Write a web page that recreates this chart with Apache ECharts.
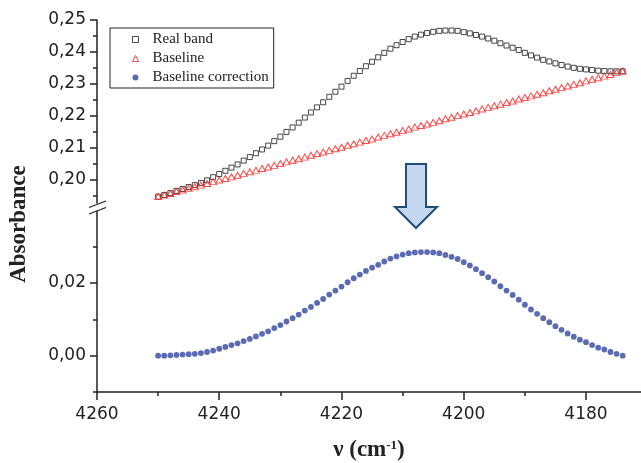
<!DOCTYPE html>
<html><head><meta charset="utf-8">
<script src="https://cdn.jsdelivr.net/npm/echarts@6/dist/echarts.min.js"></script>
<style>html,body{margin:0;padding:0;background:#fff}#c{width:641px;height:463px}</style>
</head><body><div id="c"></div>
<script>
const wavenumbers = [4250,4249,4248,4247,4246,4245,4244,4243,4242,4241,
4240,4239,4238,4237,4236,4235,4234,4233,4232,4231,
4230,4229,4228,4227,4226,4225,4224,4223,4222,4221,
4220,4219,4218,4217,4216,4215,4214,4213,4212,4211,
4210,4209,4208,4207,4206,4205,4204,4203,4202,4201,
4200,4199,4198,4197,4196,4195,4194,4193,4192,4191,
4190,4189,4188,4187,4186,4185,4184,4183,4182,4181,
4180,4179,4178,4177,4176,4175,4174];
const realBand = [0.1946,0.1951,0.1957,0.1964,0.1970,0.1976,0.1982,0.1989,0.1997,0.2007,
0.2017,0.2027,0.2037,0.2047,0.2059,0.2070,0.2082,0.2094,0.2106,0.2120,
0.2134,0.2149,0.2163,0.2178,0.2194,0.2210,0.2226,0.2242,0.2259,0.2275,
0.2291,0.2309,0.2325,0.2340,0.2355,0.2369,0.2383,0.2397,0.2410,0.2421,
0.2431,0.2440,0.2448,0.2454,0.2459,0.2463,0.2466,0.2467,0.2467,0.2466,
0.2462,0.2458,0.2453,0.2448,0.2442,0.2435,0.2427,0.2420,0.2413,0.2406,
0.2397,0.2389,0.2382,0.2375,0.2370,0.2364,0.2359,0.2354,0.2350,0.2347,
0.2345,0.2343,0.2341,0.2340,0.2339,0.2339,0.2339];
const baseline = [0.1946,0.1951,0.1956,0.1962,0.1967,0.1972,0.1977,0.1982,0.1987,0.1993,
0.1998,0.2003,0.2008,0.2013,0.2019,0.2024,0.2029,0.2034,0.2039,0.2044,
0.2050,0.2055,0.2060,0.2065,0.2070,0.2076,0.2081,0.2086,0.2091,0.2096,
0.2101,0.2107,0.2112,0.2117,0.2122,0.2127,0.2133,0.2138,0.2143,0.2148,
0.2153,0.2158,0.2164,0.2169,0.2174,0.2179,0.2184,0.2190,0.2195,0.2200,
0.2205,0.2210,0.2215,0.2221,0.2226,0.2231,0.2236,0.2241,0.2246,0.2252,
0.2257,0.2262,0.2267,0.2272,0.2278,0.2283,0.2288,0.2293,0.2298,0.2303,
0.2309,0.2314,0.2319,0.2324,0.2329,0.2335,0.2340];
const correction = [0.0000,0.0000,0.0001,0.0002,0.0003,0.0004,0.0005,0.0007,0.0010,0.0014,
0.0019,0.0024,0.0029,0.0034,0.0040,0.0046,0.0053,0.0060,0.0067,0.0076,
0.0084,0.0094,0.0103,0.0113,0.0124,0.0134,0.0145,0.0156,0.0168,0.0179,
0.0190,0.0202,0.0213,0.0223,0.0233,0.0242,0.0250,0.0259,0.0267,0.0273,
0.0278,0.0282,0.0284,0.0285,0.0285,0.0284,0.0282,0.0277,0.0272,0.0266,
0.0257,0.0248,0.0238,0.0227,0.0216,0.0204,0.0191,0.0179,0.0167,0.0154,
0.0140,0.0127,0.0115,0.0103,0.0092,0.0081,0.0071,0.0061,0.0052,0.0044,
0.0037,0.0029,0.0022,0.0017,0.0010,0.0005,0.0000];
const seriesNames = ['Real band','Baseline','Baseline correction'];
const yTopLabels = [0.20,0.21,0.22,0.23,0.24,0.25];
const yTopMinor = [0.195,0.205,0.215,0.225,0.235,0.245];
const yBotLabels = [0.00,0.02];
const yBotMinor = [-0.01,0.01,0.03];
const xLabels = [4260,4240,4220,4200,4180];
const xMinor = [4250,4230,4210,4190];

const AX = '#222';
const fmt = v => v.toFixed(2).replace('.', ',');
const pair = arr => wavenumbers.map((w, i) => [w, arr[i]]);
const tickFont = {color: AX, fontFamily: 'DejaVu Sans', fontSize: 17};
function xAx(grid, major) {
  return {gridIndex: grid, type: 'value', min: 4171, max: 4260, inverse: true, position: 'bottom',
    splitLine: {show: false},
    axisLine: {show: major, onZero: false, lineStyle: {color: AX, width: 1.5}},
    axisTick: {show: true, length: major ? 8 : 4, customValues: major ? xLabels : xMinor, lineStyle: {color: AX, width: 1.5}},
    axisLabel: major ? Object.assign({customValues: xLabels, margin: 14, formatter: v => String(v)}, tickFont) : {show: false}};
}
function yAx(grid, min, max, labels, minor, major) {
  return {gridIndex: grid, type: 'value', min: min, max: max, position: 'left',
    splitLine: {show: false},
    axisLine: {show: major, onZero: false, lineStyle: {color: AX, width: 1.5}},
    axisTick: {show: true, length: major ? 7 : 4, customValues: major ? labels : minor, lineStyle: {color: AX, width: 1.5}},
    axisLabel: major ? Object.assign({customValues: labels, margin: 11, formatter: fmt}, tickFont) : {show: false}};
}
const xMain = xAx(1, true);
xMain.name = '{a|ν (cm}{b|-1}{a|)}';
xMain.nameLocation = 'middle';
xMain.nameGap = 47;
xMain.nameTextStyle = {rich: {
  a: {fontFamily: 'Liberation Serif', fontWeight: 'bold', fontSize: 23, color: AX},
  b: {fontFamily: 'Liberation Serif', fontWeight: 'bold', fontSize: 13, color: AX, verticalAlign: 'top'}
}};
const xTop = xAx(0, false); xTop.show = false;

const chart = echarts.init(document.getElementById('c'), null, {renderer: 'canvas'});
chart.setOption({
  animation: false,
  backgroundColor: '#fff',
  grid: [
    {left: 97, right: 0, top: 20, height: 183},
    {left: 97, right: 0, top: 211, height: 181}
  ],
  xAxis: [xTop, xMain, xAx(1, false)],
  yAxis: [
    yAx(0, 0.1926, 0.25, yTopLabels, yTopMinor, true),
    yAx(0, 0.1926, 0.25, yTopLabels, yTopMinor, false),
    yAx(1, -0.01, 0.0398, yBotLabels, yBotMinor, true),
    yAx(1, -0.01, 0.0398, yBotLabels, yBotMinor, false)
  ],
  legend: {
    left: 110, top: 28, orient: 'vertical', itemWidth: 6, itemHeight: 6, itemGap: 4,
    padding: [4, 5, 3, 22], borderColor: AX, borderWidth: 1,
    textStyle: {fontFamily: 'Liberation Serif', fontSize: 15, color: AX, lineHeight: 15, padding: [0, 0, 0, 9]},
    data: [
      {name: seriesNames[0], itemStyle: {borderWidth: 1}},
      {name: seriesNames[1], itemStyle: {borderWidth: 1}},
      {name: seriesNames[2]}
    ]
  },
  series: [
    {name: seriesNames[0], type: 'scatter', xAxisIndex: 0, yAxisIndex: 0, data: pair(realBand),
      symbol: 'rect', symbolSize: 5,
      itemStyle: {color: 'rgba(255,255,255,0)', borderColor: '#1a1a1a', borderWidth: 1}},
    {name: seriesNames[1], type: 'scatter', xAxisIndex: 0, yAxisIndex: 0, data: pair(baseline),
      symbol: 'triangle', symbolSize: [7, 6],
      itemStyle: {color: 'rgba(255,255,255,0)', borderColor: '#ff2020', borderWidth: 1}},
    {name: seriesNames[2], type: 'scatter', xAxisIndex: 1, yAxisIndex: 2, data: pair(correction),
      symbol: 'circle', symbolSize: 5.8, itemStyle: {color: '#3246a0'}}
  ],
  graphic: [
    {type: 'polygon', shape: {points: [[406,164],[426,164],[426,207],[437,207],[416,228],[395,207],[406,207]]},
      style: {fill: '#c6d8f0', stroke: '#1f4e7a', lineWidth: 2}},
    {type: 'line', shape: {x1: 89, y1: 207.5, x2: 106, y2: 201}, style: {stroke: AX, lineWidth: 1.3}},
    {type: 'line', shape: {x1: 89, y1: 214, x2: 106, y2: 207.5}, style: {stroke: AX, lineWidth: 1.3}},
    {type: 'text', x: 19, y: 224, rotation: Math.PI / 2,
      style: {text: 'Absorbance', fill: AX, font: 'bold 23px "Liberation Serif"', align: 'center', verticalAlign: 'middle'}}
  ]
});
</script></body></html>
